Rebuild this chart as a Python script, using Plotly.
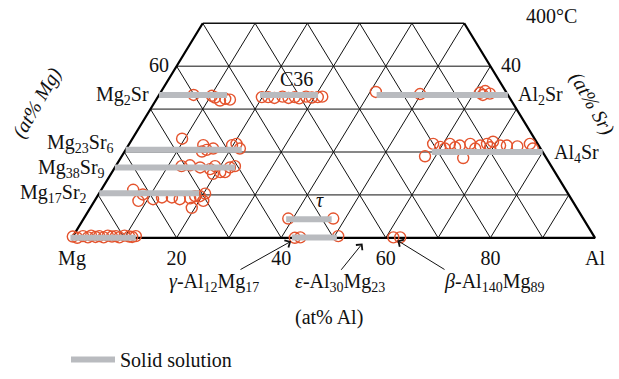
import plotly.graph_objects as go

# ---------------------------------------------------------------
# Mg-Al-Sr isothermal section at 400 °C (Sr <= 50 at%)
# Compositions are given as (at% Al, at% Sr); Mg is the balance.
# ---------------------------------------------------------------

# Solid-solution ranges of the phases (constant Sr, Al from lo to hi)
ss_phase = ["Mg", "Mg17Sr2", "Mg38Sr9", "Mg23Sr6", "Mg2Sr",
            "C36", "Al2Sr", "Al4Sr", "tau", "gamma"]
ss_sr = [0.0, 10.4, 16.4, 20.5, 33.3, 33.3, 33.3, 20.0, 4.3, 0.1]
ss_al_lo = [-0.3, 0.0, 0.0, 0.0, 0.0, 19.3, 41.6, 58.8, 38.8, 42.0]
ss_al_hi = [12.2, 19.1, 23.0, 22.2, 13.0, 30.4, 66.7, 80.0, 47.5, 50.6]

# Measured phase compositions (at% Al, at% Sr)
meas_al = [
    # Mg solid solution
    0.0, 1.0, 1.9, 3.0, 3.4, 4.4, 5.0, 6.0, 6.6, 7.5, 8.2, 9.0, 9.8, 10.8, 11.4, 12.0,
    # Mg17Sr2
    6.1, 8.4, 8.5, 11.0, 12.5, 14.4, 16.1, 18.0, 18.7, 19.6, 19.4, 20.8, 20.3,
    # Mg38Sr9
    12.6, 14.1, 16.3, 18.4, 19.0, 20.7, 21.6, 22.0, 22.8, 19.5,
    # Mg23Sr6
    9.5, 14.3, 15.5, 14.8, 16.6, 19.8, 20.5, 21.7,
    # Mg2Sr
    6.6, 10.2, 11.0, 12.3, 13.1, 14.1,
    # C36
    19.9, 21.1, 22.4, 23.8, 25.1, 26.2, 27.2, 28.3, 29.5, 30.6, 31.4,
    # Al2Sr
    41.1, 49.8, 61.1, 61.9, 63.1, 61.9,
    # Al4Sr
    58.0, 58.1, 59.8, 61.3, 63.4, 65.5, 65.2, 67.3, 68.4, 69.3, 71.1, 72.4,
    74.5, 76.6, 77.7, 60.9, 62.7, 66.7, 69.4,
    # tau
    39.1, 47.7,
    # gamma
    42.6, 43.6, 50.7,
    # beta
    61.4, 62.7,
]
meas_sr = [
    0.3, 0.0, 0.4, 0.1, 0.5, 0.2, 0.4, 0.1, 0.5, 0.3, 0.4, 0.1, 0.5, 0.3, 0.2, 0.4,
    11.2, 8.6, 10.1, 9.0, 9.4, 9.4, 9.0, 9.2, 9.7, 9.7, 7.0, 8.6, 10.3,
    16.7, 16.9, 16.4, 16.0, 16.7, 15.3, 15.3, 16.4, 16.7, 14.9,
    23.1, 21.6, 20.5, 20.1, 20.8, 21.6, 21.9, 20.8,
    33.3, 33.1, 32.7, 32.0, 32.4, 32.2,
    32.8, 32.8, 32.6, 32.9, 32.6, 32.8, 32.5, 32.9, 32.7, 32.8, 32.9,
    34.0, 33.5, 33.8, 34.2, 33.6, 33.3,
    19.0, 21.9, 21.2, 21.9, 21.5, 18.6, 21.9, 21.5, 21.9, 22.4, 21.5, 21.5,
    21.3, 21.9, 20.8, 20.8, 21.1, 20.8, 21.1,
    4.5, 4.5,
    0.0, 0.1, 0.4,
    0.1, 0.1,
]

grid_step = [10, 20, 30, 40, 50, 60, 70, 80, 90]
sr_top = 50  # upper cut of the section
tick_vals = [0, 20, 40, 60, 80, 100]
tick_text = ["Mg", "20", "40", "60", "80", "Al"]


def cart(al, sr):
    """Ternary (Al, Sr) -> plot coordinates (Al + Sr/2, Sr)."""
    return al + sr / 2.0, sr


SERIF = "Liberation Serif"
FS = 20
W, H = 619, 379
RED = "#E4532D"
GREY = "#B9BBBF"

# pixel scale of the diagram
X_ORIGIN, X_SCALE = 72.0, 5.23
Y_ORIGIN, Y_SCALE = 248.3, 4.48

fig = go.Figure()

# ---- inner grid lines ----
gx, gy = [], []
for s in grid_step:
    if s < sr_top:  # constant Sr
        for p in (cart(0, s), cart(100 - s, s)):
            gx.append(p[0]); gy.append(p[1])
        gx.append(None); gy.append(None)
for a in grid_step:  # constant Al, parallel to the Mg-Sr edge
    smax = min(sr_top, 100 - a)
    for p in (cart(a, 0), cart(a, smax)):
        gx.append(p[0]); gy.append(p[1])
    gx.append(None); gy.append(None)
for m in grid_step:  # constant Mg, parallel to the Al-Sr edge
    smax = min(sr_top, 100 - m)
    for p in (cart(100 - m, 0), cart(100 - m - smax, smax)):
        gx.append(p[0]); gy.append(p[1])
    gx.append(None); gy.append(None)
fig.add_trace(go.Scatter(x=gx, y=gy, mode="lines", hoverinfo="skip",
                         line=dict(color="#111111", width=1), showlegend=False))

# top cut edge
tx, ty = zip(cart(0, sr_top), cart(100 - sr_top, sr_top))
fig.add_trace(go.Scatter(x=list(tx), y=list(ty), mode="lines", hoverinfo="skip",
                         line=dict(color="#111111", width=1.3), showlegend=False))

# outer edges: Mg-Sr, Mg-Al, Al-Sr
ox, oy = zip(cart(0, sr_top), cart(0, 0), cart(100, 0), cart(100 - sr_top, sr_top))
fig.add_trace(go.Scatter(x=list(ox), y=list(oy), mode="lines", hoverinfo="skip",
                         line=dict(color="#000000", width=2.2), showlegend=False))

# ---- measured compositions ----
mx, my = [], []
for a, s in zip(meas_al, meas_sr):
    x, y = cart(a, s)
    mx.append(x); my.append(y)
fig.add_trace(go.Scatter(
    x=mx, y=my, mode="markers", showlegend=False, hoverinfo="skip",
    marker=dict(symbol="circle-open", size=11, color=RED, line=dict(width=1.4, color=RED))))

# ---- solid-solution ranges ----
bx, by = [], []
for s, lo, hi in zip(ss_sr, ss_al_lo, ss_al_hi):
    for p in (cart(lo, s), cart(hi, s)):
        bx.append(p[0]); by.append(p[1])
    bx.append(None); by.append(None)
fig.add_trace(go.Scatter(x=bx, y=by, mode="lines", name="Solid solution",
                         hoverinfo="skip", line=dict(color=GREY, width=6)))


def paper(px, py):
    return px / W, 1 - py / H


annotations = []


def label(text, px, py, size=FS, xanchor="center", angle=0, italic=False):
    x, y = paper(px, py)
    annotations.append(dict(
        text=text, x=x, y=y, xref="paper", yref="paper", showarrow=False,
        xanchor=xanchor, yanchor="middle", textangle=angle,
        font=dict(family=SERIF, size=size, color="#111111",
                  style="italic" if italic else "normal")))


label("400°C", 551, 17)
label("60", 171, 68, xanchor="right")
label("40", 499, 68, xanchor="left")
label("Mg<sub>2</sub>Sr", 151, 100, xanchor="right")
label("C36", 296, 83)
label("Al<sub>2</sub>Sr", 516, 100, xanchor="left")
label("Al<sub>4</sub>Sr", 552, 160, xanchor="left")
label("Mg<sub>23</sub>Sr<sub>6</sub>", 116, 150, xanchor="right")
label("Mg<sub>38</sub>Sr<sub>9</sub>", 107, 176, xanchor="right")
label("Mg<sub>17</sub>Sr<sub>2</sub>", 89, 202, xanchor="right")
label("τ", 320, 209, italic=True)
label("(at% Mg)", 37, 107, angle=-60, italic=True)
label("(at% Sr)", 592, 108, angle=60, italic=True)
label("<i>γ</i>-Al<sub>12</sub>Mg<sub>17</sub>", 214, 295)
label("<i>ε</i>-Al<sub>30</sub>Mg<sub>23</sub>", 340, 295)
label("<i>β</i>-Al<sub>140</sub>Mg<sub>89</sub>", 494, 295)
label("(at% Al)", 329, 331)

# arrows pointing at the binary Mg-Al phases
arrow_tip_al = [42.3, 56.2, 62.5]
arrow_tip_sr = [-0.8, -1.3, -0.6]
arrow_tail = [(239, 281), (340, 282), (446, 281)]
for a, s, (tx_, ty_) in zip(arrow_tip_al, arrow_tip_sr, arrow_tail):
    x, y = cart(a, s)
    px_tip = X_ORIGIN + X_SCALE * x
    py_tip = Y_ORIGIN - Y_SCALE * y
    annotations.append(dict(
        x=x, y=y, xref="x", yref="y", text="", showarrow=True,
        ax=tx_ - px_tip, ay=ty_ - py_tip, axref="pixel", ayref="pixel",
        arrowhead=4, arrowsize=1.6, arrowwidth=1, arrowcolor="#111111"))

x0 = -X_ORIGIN / X_SCALE
x1 = (W - X_ORIGIN) / X_SCALE
y1 = Y_ORIGIN / Y_SCALE
y0 = (Y_ORIGIN - H) / Y_SCALE

fig.update_layout(
    width=W, height=H,
    margin=dict(l=0, r=0, t=0, b=0),
    paper_bgcolor="white", plot_bgcolor="white",
    xaxis=dict(range=[x0, x1], showgrid=False, zeroline=False, showline=False,
               tickmode="array", tickvals=tick_vals, ticktext=tick_text,
               ticks="", anchor="free", position=1 - Y_ORIGIN / H,
               ticklabelstandoff=6,
               tickfont=dict(family=SERIF, size=FS, color="#111111")),
    yaxis=dict(range=[y0, y1], visible=False),
    annotations=annotations,
    showlegend=True,
    legend=dict(x=66 / W, y=1 - 355 / H, xanchor="left", yanchor="top",
                itemwidth=44, bgcolor="rgba(0,0,0,0)",
                font=dict(family=SERIF, size=FS, color="#111111")),
)

fig.write_html("out.html")
